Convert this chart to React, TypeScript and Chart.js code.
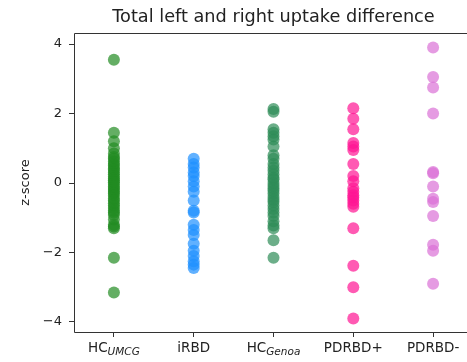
import React, { useEffect, useRef } from "react";
import { Chart, registerables } from "chart.js";

Chart.register(...registerables);

const TITLE = "Total left and right uptake difference";
const Y_LABEL = "z-score";
const CATEGORY_MAIN = ["HC", "iRBD", "HC", "PDRBD+", "PDRBD-"];
const CATEGORY_SUB = ["UMCG", "", "Genoa", "", ""];
const Y_TICKS = [-4, -2, 0, 2, 4];
const COLORS = ["#228B22", "#1E90FF", "#2E8B57", "#FF1493", "#DA70D6"];

const HC_UMCG = [3.55, 1.45, 1.2, 1.0, 0.85, 0.75, 0.7, 0.62, 0.55, 0.5, 0.42, 0.38, 0.3, 0.25, 0.18, 0.12, 0.08, 0.02, -0.03, -0.1, -0.14, -0.2, -0.26, -0.3, -0.37, -0.45, -0.5, -0.58, -0.65, -0.72, -0.8, -0.85, -0.92, -1.05, -1.2, -1.25, -1.3, -2.15, -3.15];
const IRBD = [0.7, 0.55, 0.45, 0.3, 0.2, 0.05, -0.1, -0.25, -0.5, -0.8, -0.85, -1.2, -1.35, -1.5, -1.75, -1.95, -2.1, -2.25, -2.35, -2.45];
const HC_GENOA = [2.13, 2.05, 1.55, 1.45, 1.35, 1.25, 1.05, 0.8, 0.7, 0.55, 0.45, 0.35, 0.25, 0.15, 0.1, 0.0, -0.08, -0.15, -0.22, -0.3, -0.4, -0.48, -0.55, -0.65, -0.75, -0.85, -0.95, -1.1, -1.22, -1.3, -1.65, -2.15];
const PDRBD_POS = [2.15, 1.85, 1.55, 1.15, 1.05, 0.95, 0.55, 0.2, 0.05, -0.15, -0.25, -0.35, -0.42, -0.5, -0.6, -0.68, -1.3, -2.38, -3.0, -3.9];
const PDRBD_NEG = [3.9, 3.05, 2.75, 2.0, 0.32, 0.28, -0.1, -0.45, -0.55, -0.95, -1.78, -1.95, -2.9];

const SERIES = [HC_UMCG, IRBD, HC_GENOA, PDRBD_POS, PDRBD_NEG];

const FONT = "'DejaVu Sans', sans-serif";

function hexToRgba(hex: string, a: number) {
  const n = parseInt(hex.slice(1), 16);
  return `rgba(${(n >> 16) & 255},${(n >> 8) & 255},${n & 255},${a})`;
}

const decorPlugin = {
  id: "decor",
  afterDraw(chart: any) {
    const { ctx, chartArea } = chart;
    const xs = chart.scales.x;
    ctx.save();
    const L = Math.round(chartArea.left) + 0.5;
    const T = Math.round(chartArea.top) + 0.5;
    const B = Math.round(chartArea.bottom) + 0.5;
    const R = Math.round(chartArea.right) + 0.5;
    ctx.strokeStyle = "#333";
    ctx.lineWidth = 1;
    ctx.beginPath();
    ctx.moveTo(R, T);
    ctx.lineTo(L, T);
    ctx.lineTo(L, B);
    ctx.lineTo(R, B);
    ctx.stroke();
    ctx.fillStyle = "#222";
    ctx.font = `17.7px ${FONT}`;
    ctx.textAlign = "center";
    ctx.textBaseline = "alphabetic";
    ctx.fillText(TITLE, (chartArea.left + chartArea.right) / 2, 22);
    ctx.save();
    ctx.translate(29, (chartArea.top + chartArea.bottom) / 2);
    ctx.rotate(-Math.PI / 2);
    ctx.font = `13px ${FONT}`;
    ctx.textAlign = "center";
    ctx.textBaseline = "alphabetic";
    ctx.fillText(Y_LABEL, 0, 0);
    ctx.restore();
    const mainFont = `13.5px ${FONT}`;
    const subFont = `italic 10.5px ${FONT}`;
    const baseY = chartArea.bottom + 20;
    CATEGORY_MAIN.forEach((main, i) => {
      const sub = CATEGORY_SUB[i];
      const px = xs.getPixelForValue(i);
      ctx.font = mainFont;
      const wm = ctx.measureText(main).width;
      ctx.font = subFont;
      const ws = sub ? ctx.measureText(sub).width : 0;
      const start = px - (wm + ws) / 2;
      ctx.textAlign = "left";
      ctx.font = mainFont;
      ctx.fillText(main, start, baseY);
      if (sub) {
        ctx.font = subFont;
        ctx.fillText(sub, start + wm, baseY + 3);
      }
    });
    ctx.restore();
  },
};

export default function App() {
  const ref = useRef<HTMLCanvasElement | null>(null);
  useEffect(() => {
    if (!ref.current) return;
    const chart = new Chart(ref.current, {
      type: "scatter",
      data: {
        datasets: SERIES.map((vals, i) => ({
          label: CATEGORY_MAIN[i] + CATEGORY_SUB[i],
          data: vals.map((v) => ({ x: i, y: v })),
          backgroundColor: hexToRgba(COLORS[i], 0.7),
          borderWidth: 0,
          pointRadius: 6,
        })),
      },
      plugins: [decorPlugin],
      options: {
        animation: false,
        responsive: false,
        layout: { padding: { top: 33, right: 27, left: 0, bottom: 0 } },
        plugins: { legend: { display: false }, tooltip: { enabled: false }, title: { display: false } },
        scales: {
          x: {
            type: "linear",
            min: -0.5,
            max: 4.5,
            afterBuildTicks: (s: any) => {
              s.ticks = CATEGORY_MAIN.map((_, i) => ({ value: i }));
            },
            afterFit: (s: any) => {
              s.height = 30;
            },
            border: { display: false },
            grid: { drawOnChartArea: false, drawTicks: true, tickLength: 5, tickColor: "#333", tickWidth: 1 },
            ticks: { display: true, callback: () => "", padding: 0 },
          },
          y: {
            type: "linear",
            min: -4.29,
            max: 4.32,
            afterBuildTicks: (s: any) => {
              s.ticks = Y_TICKS.map((v) => ({ value: v }));
            },
            afterFit: (s: any) => {
              s.width = 74;
            },
            border: { display: false },
            grid: { drawOnChartArea: false, drawTicks: true, tickLength: 5, tickColor: "#333", tickWidth: 1 },
            ticks: {
              color: "#222",
              font: { family: FONT, size: 13 },
              padding: 7,
              callback: (v: any) => (Number(v) < 0 ? "\u2212" + Math.abs(Number(v)) : String(v)),
            },
          },
        },
      },
    });
    return () => chart.destroy();
  }, []);
  return (
    <div style={{ position: "fixed", left: 0, top: 0, width: 467, height: 362, overflow: "hidden", background: "#fff" }}>
      <canvas ref={ref} width={500} height={362} style={{ width: 500, height: 362, display: "block" }} />
    </div>
  );
}
